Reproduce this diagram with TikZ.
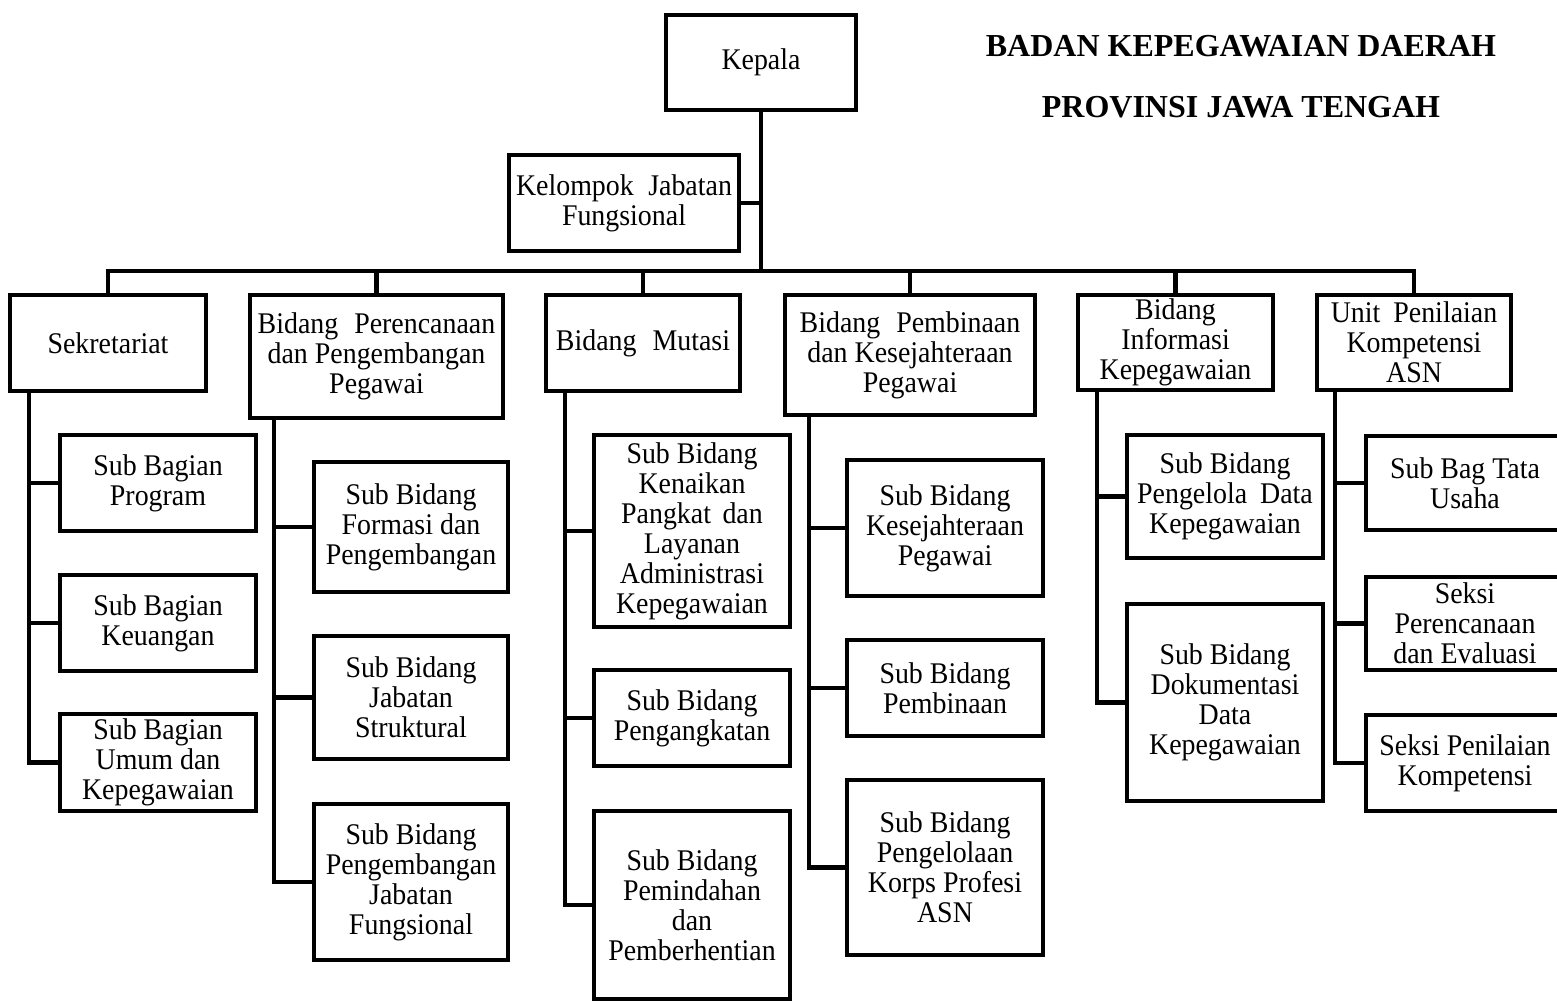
\documentclass[tikz,border=0pt]{standalone}
\usepackage{fontspec}
\setmainfont{Liberation Serif}
\newfontfamily\bodyfont{Liberation Serif}[FakeStretch=0.93]
\usetikzlibrary{calc}
\tikzset{
  box/.style={draw, line width=4.5pt, align=center, inner sep=0pt,
    font=\bodyfont\fontsize{30}{30}\selectfont},
  wh/.style 2 args={minimum width=#1pt, minimum height=#2pt},
  conn/.style={line width=4.5pt},
  titletext/.style={font=\fontsize{32}{36}\selectfont\bfseries, anchor=base}
}
\begin{document}
\begin{tikzpicture}[x=1pt,y=-1pt]
\useasboundingbox (0,0) rectangle (1557,1003);
\clip (0,0) rectangle (1557,1003);
\fill[white] (0,0) rectangle (1557,1003);

% title
\node[titletext] (t1) at (1241,57) {BADAN KEPEGAWAIAN DAERAH};
\node[titletext] (t2) at (1241,118) {PROVINSI JAWA TENGAH};

% top
\node[box, wh={190}{95}] (kepala) at (761,62.5) {Kepala};
\node[box, wh={230}{96}] (kjf) at (624,203) {Kelompok\hspace{0.25em} Jabatan\\Fungsional};

% level 2
\node[box, wh={196}{96}]  (sek) at (108,343) {Sekretariat};
\node[box, wh={253}{123}] (per) at (376.5,356.5) {Bidang\hspace{0.3em} Perencanaan\\dan Pengembangan\\Pegawai};
\node[box, wh={194}{96}]  (mut) at (643,343) {Bidang\hspace{0.3em} Mutasi};
\node[box, wh={250}{120}] (pem) at (910,355) {Bidang\hspace{0.3em} Pembinaan\\dan Kesejahteraan\\Pegawai};
\node[box, wh={195}{95}]  (inf) at (1175.5,342.5) {Bidang\\Informasi\\Kepegawaian};
\node[box, wh={194}{95}]  (unit) at (1414,342.5) {Unit\hspace{0.2em} Penilaian\\Kompetensi\\ASN};

% Sekretariat children
\node[box, wh={196}{96}] (sbp) at (158,483) {Sub Bagian\\Program};
\node[box, wh={196}{96}] (sbk) at (158,623) {Sub Bagian\\Keuangan};
\node[box, wh={196}{97}] (sbu) at (158,762.5) {Sub Bagian\\Umum dan\\Kepegawaian};

% Perencanaan children
\node[box, wh={194}{130}] (sbf) at (411,527) {Sub Bidang\\Formasi dan\\Pengembangan};
\node[box, wh={194}{123}] (sbj) at (411,697.5) {Sub Bidang\\Jabatan\\Struktural};
\node[box, wh={194}{156}] (sbpj) at (411,882) {Sub Bidang\\Pengembangan\\Jabatan\\Fungsional};

% Mutasi children
\node[box, wh={196}{192}] (sbkp) at (692,531) {Sub Bidang\\Kenaikan\\Pangkat\hspace{0.15em} dan\\Layanan\\Administrasi\\Kepegawaian};
\node[box, wh={196}{96}]  (sbpa) at (692,718) {Sub Bidang\\Pengangkatan};
\node[box, wh={196}{188}] (sbpp) at (692,905) {Sub Bidang\\Pemindahan\\dan\\Pemberhentian};

% Pembinaan children
\node[box, wh={196}{136}] (sbks) at (945,528) {Sub Bidang\\Kesejahteraan\\Pegawai};
\node[box, wh={196}{96}]  (sbpb) at (945,688) {Sub Bidang\\Pembinaan};
\node[box, wh={196}{175}] (sbkor) at (945,867.5) {Sub Bidang\\Pengelolaan\\Korps Profesi\\ASN};

% Informasi children
\node[box, wh={196}{123}] (sbpd) at (1225,496.5) {Sub Bidang\\Pengelola\hspace{0.2em} Data\\Kepegawaian};
\node[box, wh={196}{197}] (sbdd) at (1225,702.5) {Sub Bidang\\Dokumentasi\\Data\\Kepegawaian};

% Unit children
\node[box, wh={198}{94}] (sbt) at (1465,483) {Sub Bag Tata\\Usaha};
\node[box, wh={198}{93}] (ssp) at (1465,623.5) {Seksi\\Perencanaan\\dan Evaluasi};
\node[box, wh={198}{96}] (sspk) at (1465,763) {Seksi Penilaian\\Kompetensi};

% main connectors
\coordinate (bar) at (0,271);
\draw[conn] (kjf.east) -- (kjf.east -| kepala.south);
\foreach \n in {sek,per,mut,pem,inf,unit}{
  \draw[conn] (kepala.south) |- (bar -| \n.north) -- (\n.north);
}

% column spines
\foreach \p/\o/\c in {sek/21/sbp,sek/21/sbk,sek/21/sbu,
                      per/26/sbf,per/26/sbj,per/26/sbpj,
                      mut/21/sbkp,mut/21/sbpa,mut/21/sbpp,
                      pem/26/sbks,pem/26/sbpb,pem/26/sbkor,
                      inf/21/sbpd,inf/21/sbdd,
                      unit/20/sbt,unit/20/ssp,unit/20/sspk}{
  \draw[conn] ($(\p.south west)+(\o,0)$) |- (\c.west);
}
\end{tikzpicture}
\end{document}
